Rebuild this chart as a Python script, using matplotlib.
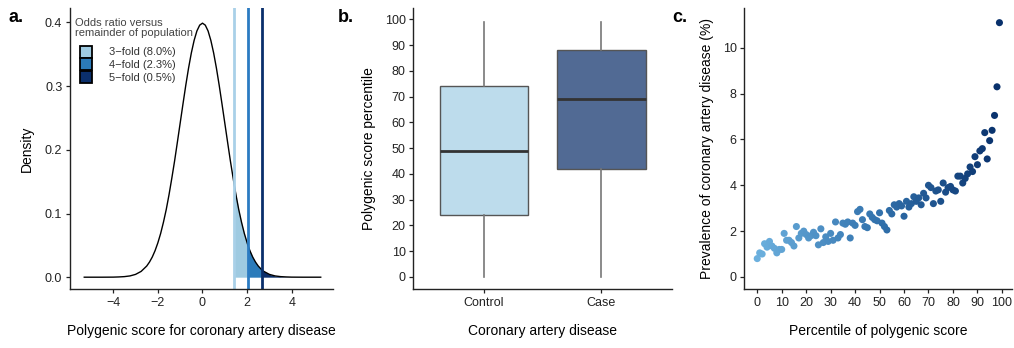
import numpy as np
import matplotlib
matplotlib.use('Agg')
import matplotlib.pyplot as plt
from matplotlib.lines import Line2D
from matplotlib.colors import LinearSegmentedColormap

plt.rcParams['font.family'] = ['Liberation Sans', 'DejaVu Sans']

# ── panel a: density of the polygenic score ──
score_x = [-5.3, -4.5, -4.0, -3.75, -3.5, -3.25, -3.0, -2.75, -2.5, -2.375,
           -2.25, -2.125, -2.0, -1.875, -1.75, -1.625, -1.5, -1.375, -1.25,
           -1.125, -1.0, -0.875, -0.75, -0.625, -0.5, -0.375, -0.25, -0.125,
           0.0, 0.125, 0.25, 0.375, 0.5, 0.625, 0.75, 0.875, 1.0, 1.125, 1.25,
           1.42, 1.5, 1.625, 1.75, 1.875, 2.02, 2.125, 2.25, 2.375, 2.5, 2.65,
           2.75, 3.0, 3.25, 3.5, 3.75, 4.0, 4.5, 5.3]
density = [0.0, 0.0, 0.0001, 0.0004, 0.0009, 0.0020, 0.0044, 0.0091, 0.0175, 0.0238,
           0.0317, 0.0417, 0.0540, 0.0687, 0.0863, 0.1062, 0.1295, 0.1554, 0.1826,
           0.2121, 0.2420, 0.2719, 0.3011, 0.3282, 0.3521, 0.3718, 0.3867, 0.3958,
           0.3989, 0.3958, 0.3867, 0.3718, 0.3521, 0.3282, 0.3011, 0.2719, 0.2420,
           0.2121, 0.1826, 0.1456, 0.1295, 0.1062, 0.0863, 0.0687, 0.0519, 0.0417,
           0.0317, 0.0238, 0.0175, 0.0119, 0.0091, 0.0044, 0.0020, 0.0009, 0.0004,
           0.0001, 0.0, 0.0]
thresholds = [1.42, 2.02, 2.65]
threshold_labels = ['3\u2212fold (8.0%)', '4\u2212fold (2.3%)', '5\u2212fold (0.5%)']
shade_colors = ['#9ecae1', '#2b7bba', '#0b2f6b']
line_colors = ['#a9d0e8', '#2b7bc2', '#0a2f6b']

# ── panel b: box plot stats ──
groups = ['Control', 'Case']
whisk_lo = [0, 0]
q1 = [24, 42]
median = [49, 69]
q3 = [74, 88]
whisk_hi = [99, 99]
box_colors = ['#bddcec', '#516a94']

# ── panel c: prevalence by percentile ──
percentile = list(range(100))
prevalence = [0.8, 1.05, 1.0, 1.45, 1.3, 1.55, 1.35, 1.25, 1.05, 1.2,
              1.2, 1.9, 1.6, 1.6, 1.5, 1.35, 2.2, 1.7, 1.9, 2.0,
              1.85, 1.7, 1.8, 1.95, 1.8, 1.4, 2.1, 1.5, 1.75, 1.55,
              1.9, 1.6, 2.4, 1.7, 1.85, 2.35, 2.3, 2.4, 1.7, 2.35,
              2.25, 2.85, 2.95, 2.5, 2.2, 2.15, 2.75, 2.6, 2.5, 2.45,
              2.8, 2.35, 2.2, 2.05, 2.9, 2.75, 3.15, 3.05, 3.2, 3.1,
              2.65, 3.3, 3.05, 3.2, 3.5, 3.3, 3.45, 3.15, 3.65, 3.45,
              4.0, 3.9, 3.2, 3.75, 3.8, 3.3, 4.1, 3.7, 3.9, 3.95,
              3.8, 3.75, 4.4, 4.4, 4.1, 4.3, 4.5, 4.8, 4.6, 5.25,
              4.9, 5.5, 5.6, 6.3, 5.15, 5.95, 6.4, 7.05, 8.3, 11.1]

fig = plt.figure(figsize=(10.14, 3.48), dpi=100)
bottom, height = 0.1687, 0.807
ax_a = fig.add_axes([0.069, bottom, 0.2594, height])
ax_b = fig.add_axes([0.4076, bottom, 0.2551, height])
ax_c = fig.add_axes([0.734, bottom, 0.2637, height])

for ax in (ax_a, ax_b, ax_c):
    ax.spines['top'].set_visible(False)
    ax.spines['right'].set_visible(False)
    for s in ('left', 'bottom'):
        ax.spines[s].set_linewidth(1.0)
        ax.spines[s].set_color('#222222')
    ax.tick_params(labelsize=9, length=3, width=0.9, pad=2.5,
                   colors='#222222', labelcolor='#222222')

# ── a ──
sx = np.array(score_x)
sd = np.array(density)
edges = thresholds + [score_x[-1]]
for i in range(3):
    m = (sx >= edges[i]) & (sx <= edges[i + 1])
    ax_a.fill_between(sx[m], 0, sd[m], color=shade_colors[i], linewidth=0)
ax_a.plot(sx, sd, color='black', lw=1.0)
for t, c in zip(thresholds, line_colors):
    ax_a.axvline(t, color=c, lw=2.0)
ax_a.set_xlim(-5.94, 5.85)
ax_a.set_ylim(-0.019, 0.422)
ax_a.set_xticks([-4, -2, 0, 2, 4])
ax_a.set_yticks([0.0, 0.1, 0.2, 0.3, 0.4])
ax_a.set_yticklabels(['0.0', '0.1', '0.2', '0.3', '0.4'])
ax_a.set_xlabel('Polygenic score for coronary artery disease', fontsize=10, labelpad=11)
ax_a.set_ylabel('Density', fontsize=10, labelpad=8)

ax_a.text(0.02, 0.967, 'Odds ratio versus\nremainder of population',
          transform=ax_a.transAxes, fontsize=8, color='#444444',
          va='top', ha='left', linespacing=1.0)
handles = [Line2D([], [], linestyle='none', marker='s', markersize=8,
                  markerfacecolor=c, markeredgecolor='black', markeredgewidth=1.3,
                  label=l)
           for c, l in zip(shade_colors, threshold_labels)]
leg = ax_a.legend(handles=handles, loc='upper left', bbox_to_anchor=(0.02, 0.861),
                  frameon=False, fontsize=8, handlelength=1.93, handletextpad=1.1,
                  labelspacing=0.25, borderaxespad=0, borderpad=0)
for txt in leg.get_texts():
    txt.set_color('#333333')

# ── b ──
stats = []
for i, g in enumerate(groups):
    stats.append(dict(label=g, whislo=whisk_lo[i], q1=q1[i], med=median[i],
                      q3=q3[i], whishi=whisk_hi[i], fliers=[]))
bp = ax_b.bxp(stats, positions=[1, 2], widths=0.75, patch_artist=True,
              showcaps=False,
              boxprops=dict(edgecolor='#555555', linewidth=1.0),
              whiskerprops=dict(color='#777777', linewidth=1.2),
              medianprops=dict(color='#333333', linewidth=2.0))
for patch, c in zip(bp['boxes'], box_colors):
    patch.set_facecolor(c)
ax_b.set_xlim(0.4, 2.6)
ax_b.set_ylim(-4.8, 104.2)
ax_b.set_yticks(range(0, 101, 10))
ax_b.set_xlabel('Coronary artery disease', fontsize=10, labelpad=11)
ax_b.set_ylabel('Polygenic score percentile', fontsize=10, labelpad=6)

# ── c ──
cmap = LinearSegmentedColormap.from_list('blues', ['#6cb0de', '#3272ad', '#08306b'])
ax_c.scatter(percentile, prevalence, c=percentile, cmap=cmap, vmin=0, vmax=99,
             s=26, linewidths=0)
ax_c.set_xlim(-5.3, 104)
ax_c.set_ylim(-0.54, 11.72)
ax_c.set_xticks(range(0, 101, 10))
ax_c.set_yticks([0, 2, 4, 6, 8, 10])
ax_c.set_xlabel('Percentile of polygenic score', fontsize=10, labelpad=11)
ax_c.set_ylabel('Prevalence of coronary artery disease (%)', fontsize=10, labelpad=6)

# panel letters
for x, lab in [(0.008, 'a.'), (0.333, 'b.'), (0.663, 'c.')]:
    fig.text(x, 0.975, lab, fontsize=13, fontweight='bold', va='top', ha='left')

fig.savefig('out.png', dpi=100)
